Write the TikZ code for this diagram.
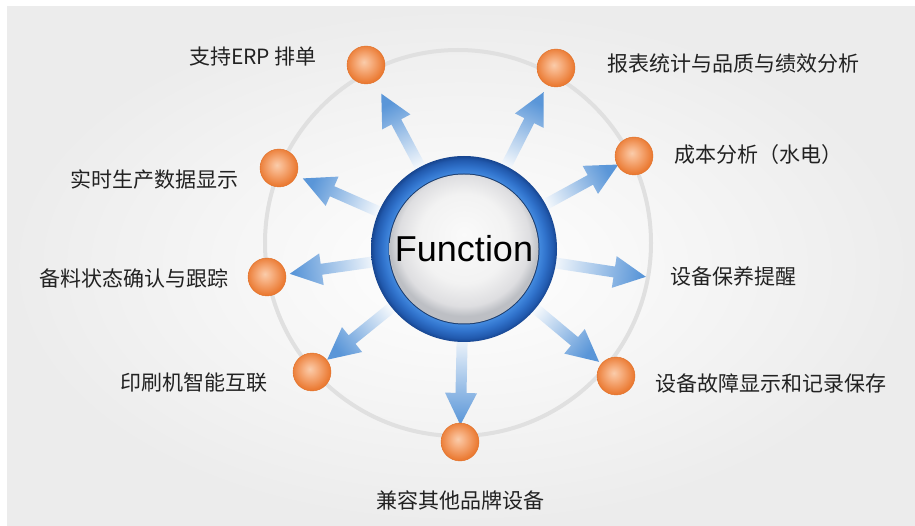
\documentclass[tikz,border=0pt]{standalone}
\usepackage{fontspec}
\setmainfont{Liberation Sans}
\newfontfamily\cjk{Noto Sans CJK SC}
\usetikzlibrary{calc}
\definecolor{panelgray}{HTML}{ECECEC}
\definecolor{ringgray}{HTML}{E0E0E0}
\definecolor{arrowdark}{HTML}{5A96D8}
\definecolor{arrowlight}{HTML}{F4F8FC}
\definecolor{labeltext}{HTML}{222222}
\definecolor{ballrim}{HTML}{E07028}
\definecolor{sepline}{HTML}{1C3D6E}
\pgfdeclareradialshading{orangeball}{\pgfpoint{-3bp}{4bp}}{rgb(0bp)=(0.98,0.80,0.67); rgb(8bp)=(0.97,0.70,0.52); rgb(25bp)=(0.92,0.48,0.20); rgb(50bp)=(0.92,0.48,0.20)}
\pgfdeclareradialshading{bluering}{\pgfpoint{0bp}{0bp}}{rgb(0bp)=(0.25,0.52,0.86); rgb(20bp)=(0.27,0.55,0.88); rgb(22bp)=(0.19,0.45,0.80); rgb(24bp)=(0.13,0.35,0.68); rgb(25bp)=(0.09,0.27,0.56); rgb(50bp)=(0.09,0.27,0.56)}
\pgfdeclareradialshading{discface}{\pgfpoint{0bp}{5bp}}{rgb(0bp)=(0.98,0.98,0.98); rgb(15bp)=(0.95,0.95,0.95); rgb(22bp)=(0.87,0.87,0.88); rgb(25bp)=(0.74,0.75,0.77); rgb(50bp)=(0.74,0.75,0.77)}
\pgfdeclarelayer{back}
\pgfdeclarelayer{mid}
\pgfsetlayers{back,mid,main}
\tikzset{
  ballsty/.style={circle, minimum size=38pt, inner sep=0pt, shading=orangeball, draw=ballrim, line width=0.4pt},
  lbl/.style={font=\cjk\fontsize{21}{25}\selectfont, text=labeltext, inner sep=0pt, text height=17.5pt, text depth=1.5pt},
}
\begin{document}
\begin{tikzpicture}[x=1pt,y=1pt]
\useasboundingbox (0,0) rectangle (915,525);
\begin{pgfonlayer}{back}
\fill[white] (0,0) rectangle (915,525);
\shade[inner color=white, outer color=panelgray] (7,0) rectangle (915,518);
\coordinate (rc) at (458,282);
\draw[ringgray, line width=4pt] (rc) circle[radius=193];
\end{pgfonlayer}

% central button
\node[circle, minimum size=186pt, inner sep=0pt, shading=bluering] (fnring) at (464,276) {};
\node[circle, minimum size=151pt, inner sep=0pt, fill=sepline] (fnsep) at (fnring.center) {};
\node[circle, minimum size=149pt, inner sep=0pt, shading=discface] (fndisc) at (fnring.center) {};
\node[font=\fontsize{36}{40}\selectfont, inner sep=0pt] (fn) at (fnring.center) {Function};

% balls
\node[ballsty] (b1) at (366,460) {};
\node[ballsty] (b2) at (556,457) {};
\node[ballsty] (b3) at (634,369) {};
\node[ballsty] (b4) at (279,357) {};
\node[ballsty] (b5) at (267,248) {};
\node[ballsty] (b6) at (312,153) {};
\node[ballsty] (b7) at (460,83) {};
\node[ballsty] (b8) at (616,149) {};
\coordinate (t6) at (647,248);

% arrows
\begin{pgfonlayer}{mid}
\foreach \tg/\len in {b1/176,b2/176,b3/176,b4/176,b5/176,b6/176,b7/176,b8/176,t6/184}{
  \pgfmathanglebetweenpoints{\pgfpointanchor{fn}{center}}{\pgfpointanchor{\tg}{center}}
  \let\ang\pgfmathresult
  \pgfmathsetmacro\angp{\ang+90}
  \pgfmathsetmacro\sang{\ang-90}
  \pgfmathsetmacro\hb{\len-32}
  \shade[top color=arrowdark, bottom color=arrowlight, shading angle=\sang]
   ($(fn.center)+(\ang:86)+(\angp:5.5)$) -- ($(fn.center)+(\ang:\hb)+(\angp:5.5)$)
   -- ($(fn.center)+(\ang:\hb)+(\angp:16)$) -- ($(fn.center)+(\ang:\len)$)
   -- ($(fn.center)+(\ang:\hb)+(\angp:-16)$) -- ($(fn.center)+(\ang:\hb)+(\angp:-5.5)$)
   -- ($(fn.center)+(\ang:86)+(\angp:-5.5)$) -- cycle;
}
\end{pgfonlayer}

% labels
\node[lbl, anchor=west] (l1) at (189,468) {支持ERP 排单};
\node[lbl, anchor=west] (l2) at (607,461) {报表统计与品质与绩效分析};
\node[lbl, anchor=west] (l3) at (674,370) {成本分析（水电）};
\node[lbl, anchor=east] (l4) at (239,345) {实时生产数据显示};
\node[lbl, anchor=east] (l5) at (229,246) {备料状态确认与跟踪};
\node[lbl, anchor=west] (l6) at (670,248) {设备保养提醒};
\node[lbl, anchor=east] (l7) at (268,143) {印刷机智能互联};
\node[lbl, anchor=west] (l8) at (655,142) {设备故障显示和记录保存};
\node[lbl] (l9) at (460,25) {兼容其他品牌设备};
\end{tikzpicture}
\end{document}
